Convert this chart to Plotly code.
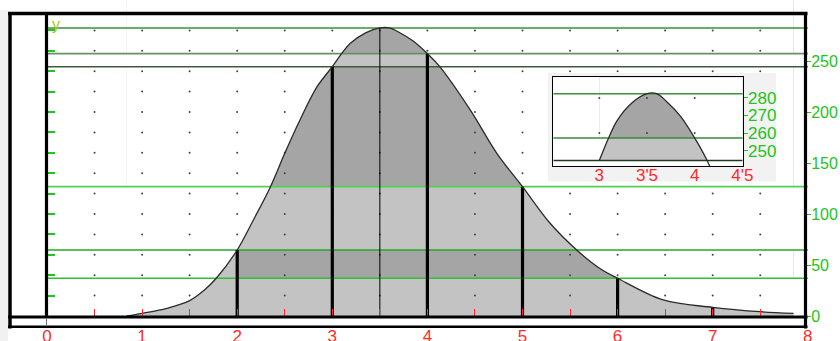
import plotly.graph_objects as go

# ---------------- data ----------------
curve_x = [0.84, 1.0, 1.26, 1.5, 1.65, 1.78, 2.0, 2.17, 2.35, 2.5, 2.66, 2.84, 3.0, 3.1, 3.19, 3.35,
           3.5, 3.6, 3.71, 3.85, 4.0, 4.13, 4.45, 4.73, 5.0, 5.29, 5.57, 5.81, 6.0, 6.48, 7.0, 7.5, 7.85]
curve_y = [0.0, 2.6, 7.5, 15.0, 25.0, 37.0, 64.7, 94.1, 126.8, 159.5, 192.2, 224.8, 244.4, 257.5, 267.4, 277.5,
           282.4, 282.4, 277.7, 269.6, 257.2, 244.4, 202.0, 159.5, 126.8, 90.9, 64.7, 46.8, 37.0, 15.7, 8.5, 4.2, 2.6]

bar_x = [2, 3, 4, 5, 6, 7]
bar_y = [64.7, 244.4, 257.2, 126.8, 37.0, 8.5]
peak_x = 3.5
peak_y = 282.4

level_y = [282.4, 257.2, 244.4, 126.8, 64.7, 37.0]
level_colors = ["#3a913a", "#6a906a", "#3d5c3d", "#52d052", "#2aa52a", "#30c030"]

# dark bands: lower level, upper level (None = top), start x (None = curve start)
band_low = [37.0, 126.8, 257.2]
band_high = [64.7, 244.4, None]
band_start = [2, None, None]

x_tick_vals = [0, 1, 2, 3, 4, 5, 6, 7, 8]
x_tick_text = ["0", "1", "2", "3", "4", "5", "6", "7", "8"]
x_minor = [0.5, 1.0, 1.5, 2.0, 2.5, 3.0, 3.5, 4.0, 4.5, 5.0, 5.5, 6.0, 6.5, 7.0, 7.5]
y_tick_vals = [0, 50, 100, 150, 200, 250]
y_tick_text = ["0", "50", "100", "150", "200", "250"]
y_minor = [20, 40, 60, 80, 100, 120, 140, 160, 180, 200, 220, 240, 260, 280]
dot_x = [0.5, 1.0, 1.5, 2.0, 2.5, 3.0, 3.5, 4.0, 4.5, 5.0, 5.5, 6.0, 6.5, 7.0, 7.5]
dot_y = [20, 40, 60, 80, 100, 120, 140, 160, 180, 200, 220, 240, 260, 280]

inset_x_ticks = [3, 3.5, 4, 4.5]
inset_x_text = ["3", "3'5", "4", "4'5"]
inset_y_ticks = [250, 260, 270, 280]
inset_y_text = ["250", "260", "270", "280"]
inset_levels = [282.4, 257.2, 244.4]
inset_level_colors = ["#3a913a", "#3a8a3a", "#203a20"]
inset_dot_x = [3, 3.5, 4]
inset_dot_y = [260, 280]

# ---------------- layout constants (pixels) ----------------
W, H, MB = 840, 341, 13
PH = H - MB
X0PX, XSC = 47.0, 95.1      # px of x=0, px per x unit
Y0PX, YSC = 316.0, 1.02     # px of y=0, px per y unit
XR = [(0 - X0PX) / XSC, (W - X0PX) / XSC]
YR = [(Y0PX - PH) / YSC, (Y0PX - 0) / YSC]

def pxx(px):
    return px / W

def pyy(py):
    return (PH - py) / PH

LIGHT = "#c3c3c3"
DARK = "#a5a5a5"
GREEN = "#22c322"
RED = "#ff2b2b"
FONT = "Liberation Sans, Arial, sans-serif"

fig = go.Figure()

def fill_layers(xs, ys, xa, ya, lows, highs, starts, top):
    # light area under the curve
    fig.add_trace(go.Scatter(x=xs, y=ys, mode="lines", line=dict(width=0, shape="spline"),
                             fill="tozeroy", fillcolor=LIGHT, xaxis=xa, yaxis=ya, hoverinfo="skip"))
    # dark bands
    for lo, hi, st in zip(lows, highs, starts):
        x_a = xs[0] if st is None else st
        x_b = xs[-1]
        y_b = top if hi is None else hi
        fig.add_trace(go.Scatter(x=[x_a, x_b, x_b, x_a, x_a], y=[lo, lo, y_b, y_b, lo], mode="lines",
                                 line=dict(width=0), fill="toself", fillcolor=DARK,
                                 xaxis=xa, yaxis=ya, hoverinfo="skip"))
    # white mask above the curve
    fig.add_trace(go.Scatter(x=xs, y=ys, mode="lines", line=dict(width=0, shape="spline"),
                             xaxis=xa, yaxis=ya, hoverinfo="skip"))
    fig.add_trace(go.Scatter(x=[xs[0], xs[-1]], y=[top, top], mode="lines", line=dict(width=0),
                             fill="tonexty", fillcolor="white", xaxis=xa, yaxis=ya, hoverinfo="skip"))

# ---------------- main plot ----------------
fill_layers(curve_x, curve_y, "x", "y", band_low, band_high, band_start, YR[1])

gx = [x for x in dot_x for _ in dot_y]
gy = [y for _ in dot_x for y in dot_y]
fig.add_trace(go.Scatter(x=gx, y=gy, mode="markers", marker=dict(size=2, color="#444444"),
                         hoverinfo="skip"))

for lv, col in zip(level_y, level_colors):
    fig.add_trace(go.Scatter(x=[x_tick_vals[0], x_tick_vals[-1]], y=[lv, lv], mode="lines",
                             line=dict(color=col, width=1.6), hoverinfo="skip"))

vx, vy = [], []
for bx, by in zip(bar_x, bar_y):
    vx += [bx, bx, None]
    vy += [0, by, None]
fig.add_trace(go.Scatter(x=vx, y=vy, mode="lines", line=dict(color="black", width=3.2),
                         hoverinfo="skip"))
fig.add_trace(go.Scatter(x=[peak_x, peak_x], y=[0, peak_y], mode="lines",
                         line=dict(color="black", width=1), hoverinfo="skip"))
fig.add_trace(go.Scatter(x=curve_x, y=curve_y, mode="lines",
                         line=dict(color="#2a2a2a", width=1.3, shape="spline"), hoverinfo="skip"))

# dummy traces to activate helper axes
fig.add_trace(go.Scatter(x=[None], y=[None], xaxis="x", yaxis="y2", hoverinfo="skip"))
fig.add_trace(go.Scatter(x=[None], y=[None], xaxis="x2", yaxis="y", hoverinfo="skip"))

# ---------------- inset panel (light grey backdrop) ----------------
fig.add_trace(go.Scatter(x=[0, 1, 1, 0, 0], y=[0, 0, 1, 1, 0], mode="lines", line=dict(width=0),
                         fill="toself", fillcolor="#f2f2f2", xaxis="x3", yaxis="y3", hoverinfo="skip"))

# ---------------- inset ----------------
IXR = [2.518, 4.503]
IYR = [241.3, 291.7]
sub_x = [x for x in curve_x if x >= inset_x_ticks[0]]
sub_y = [y for x, y in zip(curve_x, curve_y) if x >= inset_x_ticks[0]]
fill_layers(sub_x, sub_y, "x4", "y4", [inset_levels[1]], [None], [None], IYR[1])
fig.add_trace(go.Scatter(x=[IXR[0], IXR[1], IXR[1], IXR[0], IXR[0]],
                         y=[IYR[0], IYR[0], inset_levels[2], inset_levels[2], IYR[0]],
                         mode="lines", line=dict(width=0), fill="toself", fillcolor="white",
                         xaxis="x4", yaxis="y4", hoverinfo="skip"))
igx = [x for x in inset_dot_x for _ in inset_dot_y]
igy = [y for _ in inset_dot_x for y in inset_dot_y]
fig.add_trace(go.Scatter(x=igx, y=igy, mode="markers", marker=dict(size=2, color="#444444"),
                         xaxis="x4", yaxis="y4", hoverinfo="skip"))
for lv, col in zip(inset_levels, inset_level_colors):
    fig.add_trace(go.Scatter(x=IXR, y=[lv, lv], mode="lines", line=dict(color=col, width=1.5),
                             xaxis="x4", yaxis="y4", hoverinfo="skip"))
fig.add_trace(go.Scatter(x=sub_x, y=sub_y, mode="lines",
                         line=dict(color="#2a2a2a", width=1.3, shape="spline"),
                         xaxis="x4", yaxis="y4", hoverinfo="skip"))

# ---------------- axes ----------------
noax = dict(showgrid=False, zeroline=False, automargin=False)
fig.update_layout(
    width=W, height=H, margin=dict(l=0, r=0, t=0, b=MB, pad=0, autoexpand=False),
    paper_bgcolor="white", plot_bgcolor="white", showlegend=False,
    font=dict(family=FONT),
    xaxis=dict(domain=[0, 1], range=XR, anchor="y", tickvals=x_tick_vals, ticktext=x_tick_text,
               ticks="", showline=False, tickfont=dict(color=RED, size=17),
               ticklabelstandoff=-4, **noax),
    yaxis=dict(domain=[0, 1], range=YR, anchor="free", position=pxx(806), side="right",
               tickvals=y_tick_vals, ticktext=y_tick_text, ticks="outside", ticklen=4,
               tickcolor=GREEN, tickwidth=1.2, showline=False,
               tickfont=dict(color=GREEN, size=16), ticklabelstandoff=-3, **noax),
    yaxis2=dict(range=YR, overlaying="y", anchor="free", position=pxx(46.5), side="left",
                tickvals=y_minor, ticks="inside", ticklen=7, tickwidth=1.5, tickcolor=GREEN,
                showticklabels=False, showline=False, **noax),
    xaxis2=dict(range=XR, overlaying="x", anchor="free", position=pyy(Y0PX), side="bottom",
                tickvals=x_minor, ticks="inside", ticklen=7, tickwidth=1, tickcolor=RED,
                showticklabels=False, showline=False, **noax),
    xaxis3=dict(domain=[pxx(548), pxx(776)], range=[0, 1], anchor="y3", visible=False,
                automargin=False),
    yaxis3=dict(domain=[pyy(181.7), pyy(72.7)], range=[0, 1], anchor="x3", visible=False,
                automargin=False),
    xaxis4=dict(domain=[pxx(553.3), pxx(742.7)], range=IXR, anchor="y4",
                tickvals=inset_x_ticks, ticktext=inset_x_text, ticks="",
                showline=True, mirror=True, linecolor="black", linewidth=1,
                tickfont=dict(color=RED, size=17), ticklabelstandoff=-6, **noax),
    yaxis4=dict(domain=[pyy(166), pyy(77.3)], range=IYR, anchor="x4", side="right",
                tickvals=inset_y_ticks, ticktext=inset_y_text, ticks="outside", ticklen=4,
                tickcolor=GREEN, showline=True, mirror=True, linecolor="black", linewidth=1,
                tickfont=dict(color=GREEN, size=17), ticklabelstandoff=-3, **noax),
)

# ---------------- frame ----------------
def hline(py, x0, x1, w, color="black"):
    return dict(type="line", xref="paper", yref="paper", x0=pxx(x0), x1=pxx(x1),
                y0=pyy(py), y1=pyy(py), line=dict(color=color, width=w), layer="above")

def vline(px, y0, y1, w, color="black"):
    return dict(type="line", xref="paper", yref="paper", x0=pxx(px), x1=pxx(px),
                y0=pyy(y0), y1=pyy(y1), line=dict(color=color, width=w), layer="above")

shapes = [
    dict(type="rect", xref="paper", yref="paper", x0=0, x1=pxx(8), y0=pyy(H), y1=pyy(10),
         fillcolor="#f1f1f1", line=dict(width=0), layer="below"),
    hline(13.5, 8, 807.5, 3.5),
    vline(10, 12, 328.5, 3.5),
    vline(805.5, 12, 328.5, 3.2),
    hline(326.8, 8, 807.5, 2.6),
    hline(317, 8, 807.5, 3),
    vline(46.5, 12, 318, 3.2),
    vline(46.5, 318, 326, 1, "#777777"),
]
fig.update_layout(shapes=shapes)

fig.add_annotation(text="y", xref="paper", yref="paper", x=pxx(50), y=pyy(25), xanchor="left",
                   yanchor="middle", showarrow=False, font=dict(color="#a8c41c", size=16, family=FONT))

fig.write_html("out.html", post_script="document.body.style.margin='0px';",
               config={"displayModeBar": False})
